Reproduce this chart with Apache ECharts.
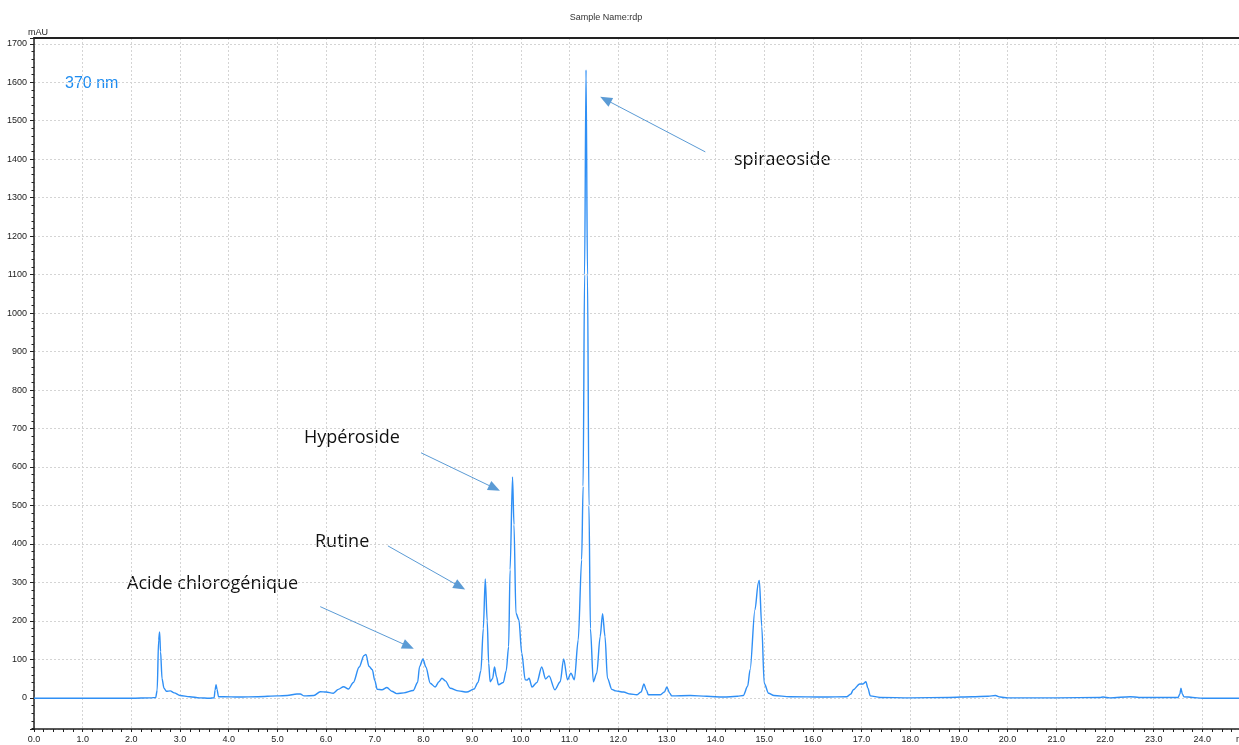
<!DOCTYPE html>
<html>
<head>
<meta charset="utf-8">
<script src="https://cdn.jsdelivr.net/npm/echarts@6/dist/echarts.min.js"></script>
<style>
html,body{margin:0;padding:0;background:#fff;}
#chart{width:1239px;height:745px;}
</style>
</head>
<body>
<div id="chart"></div>
<script>
// Retention time (min)
const times = [0.0,1.0,2.0,2.4,2.5,2.53,2.56,2.58,2.60,2.63,2.67,2.72,2.80,2.88,3.0,3.2,3.4,3.6,3.70,3.72,3.74,3.76,3.79,3.9,4.2,4.6,5.0,5.2,5.4,5.47,5.55,5.75,5.88,6.0,6.15,6.25,6.36,6.46,6.56,6.68,6.78,6.82,6.88,6.95,7.0,7.05,7.15,7.25,7.35,7.45,7.6,7.79,7.88,7.92,7.99,8.05,8.14,8.24,8.32,8.38,8.45,8.55,8.72,8.89,9.04,9.12,9.18,9.23,9.27,9.31,9.34,9.37,9.42,9.46,9.50,9.54,9.64,9.70,9.75,9.78,9.83,9.86,9.90,9.96,10.02,10.09,10.13,10.17,10.23,10.33,10.43,10.51,10.58,10.70,10.81,10.88,10.96,11.03,11.10,11.18,11.25,11.28,11.31,11.34,11.37,11.40,11.43,11.49,11.56,11.63,11.68,11.73,11.78,11.87,11.95,12.11,12.25,12.38,12.47,12.53,12.58,12.62,12.86,12.95,13.0,13.06,13.1,13.48,13.82,14.16,14.45,14.57,14.66,14.71,14.81,14.88,14.90,14.95,15.0,15.09,15.2,15.53,16.22,16.70,16.78,16.83,16.96,17.03,17.09,17.13,17.18,17.38,18.0,18.8,19.27,19.6,19.75,19.85,20.0,21.0,21.9,21.96,22.1,22.52,22.7,23.5,23.54,23.56,23.59,23.62,23.8,24.0,25.0];
// Absorbance (mAU) at 370 nm
const absorbance = [-1,-1,-1,0,1,20,150,171,120,50,25,17,18,13,6,3,0,-1,0,20,34,22,3,3,2,3,5,6,10,10,5,6,16,15,12,22,29,23,40,80,110,113,82,73,45,22,21,27,17,11,13,19,40,81,101,80,38,28,42,51,44,25,18,15,23,40,70,180,309,200,90,42,50,80,55,34,40,70,133,333,574,450,220,203,116,47,46,51,28,40,80,49,57,21,42,101,47,64,47,151,359,550,1100,1632,1100,500,180,42,64,159,219,159,51,22,18,15,10,8,15,36,20,8,8,15,28,12,5,6,4,2,4,6,30,73,229,300,305,185,38,12,6,3,2,3,10,21,36,36,42,25,5,1,0,1,3,4,6,2,0,0,1,2,0,3,1,1,10,25,10,3,1,-1,-1];

// Annotations: label text and arrow [startTime, startMAU, endTime, endMAU]
const annotLabels = ['spiraeoside','Hypéroside','Rutine','Acide chlorogénique'];
const annotArrows = [
  [13.79, 1419, 11.74, 1555],
  [7.95, 637, 9.46, 545],
  [7.27, 395, 8.75, 289],
  [5.88, 237, 7.69, 134]
];
const annotPos = [[734, 164],[304, 442],[315, 546],[127, 588]];

const xTickFmt = v => v.toFixed(1);
const yTickFmt = v => String(Math.round(v));

const chart = echarts.init(document.getElementById('chart'), null, {renderer:'canvas'});
const labelColor = '#222';
const option = {
  animation: false,
  backgroundColor: '#fff',
  grid: {left: 34, top: 38, width: 1217, height: 691, show: false, containLabel: false, outerBoundsMode: 'none'},
  xAxis: [{
    type: 'value', min: 0, max: 25, interval: 1,
    axisLine: {show: true, onZero: false, lineStyle: {color: '#222', width: 1.5}},
    axisTick: {show: true, length: 3, lineStyle: {color: '#222'}},
    minorTick: {show: true, splitNumber: 5, length: 3, lineStyle: {color: '#222'}},
    axisLabel: {formatter: xTickFmt, fontSize: 9, fontFamily: 'Liberation Sans, Arial', color: labelColor, margin: 6, showMaxLabel: false},
    splitLine: {show: true, lineStyle: {color: '#d4d4d4', type: [2, 2], width: 1}}
  }, {
    type: 'value', position: 'top', min: 0, max: 25,
    axisLine: {show: true, onZero: false, lineStyle: {color: '#222', width: 2}},
    axisTick: {show: false}, axisLabel: {show: false}, splitLine: {show: false}
  }],
  yAxis: {
    type: 'value', min: -81, max: 1715, splitNumber: 17, minInterval: 100, maxInterval: 100,
    axisLine: {show: true, onZero: false, lineStyle: {color: '#222', width: 1.5}},
    axisTick: {show: true, length: 4, lineStyle: {color: '#222'}},
    minorTick: {show: true, splitNumber: 5, length: 2.5, lineStyle: {color: '#222'}},
    axisLabel: {formatter: yTickFmt, fontSize: 9, fontFamily: 'Liberation Sans, Arial', color: labelColor, margin: 7, showMinLabel: false, showMaxLabel: false},
    splitLine: {show: true, lineStyle: {color: '#d4d4d4', type: [2, 2], width: 1}}
  },
  series: [{
    type: 'line',
    xAxisIndex: 0,
    data: times.map((t, i) => [t, absorbance[i]]),
    showSymbol: false,
    smooth: 0.3,
    smoothMonotone: 'x',
    lineStyle: {color: '#2f8ff5', width: 1.4},
    clip: true,
    markLine: {
      silent: true,
      symbol: ['none', 'triangle'],
      symbolSize: [10, 12],
      label: {show: false},
      lineStyle: {color: '#5b9bd5', width: 1, type: 'solid'},
      itemStyle: {color: '#5b9bd5'},
      data: annotArrows.map(a => [{coord: [a[0], a[1]]}, {coord: [a[2], a[3]]}])
    }
  }],
  graphic: [
    {type: 'text', x: 606, y: 22, style: {text: 'Sample Name:rdp', font: '9px "Liberation Sans", Arial', fill: '#333', align: 'center', verticalAlign: 'bottom'}},
    {type: 'text', x: 28, y: 37, style: {text: 'mAU', font: '9px "Liberation Sans", Arial', fill: '#222', verticalAlign: 'bottom'}},
    {type: 'text', x: 1236, y: 744, style: {text: 'min', font: '9px "Liberation Sans", Arial', fill: '#222', verticalAlign: 'bottom'}},
    {type: 'text', x: 65, y: 92, style: {text: '370 nm', font: '16px "Liberation Sans", Arial', fill: '#1e8cf0', verticalAlign: 'bottom'}}
  ].concat(annotLabels.map((t, i) => ({
    type: 'text', x: annotPos[i][0], y: annotPos[i][1] + 5,
    style: {text: t, font: '18px "Open Sans"', fill: '#111', verticalAlign: 'bottom'}
  })))
};
chart.setOption(option);
</script>
</body>
</html>
